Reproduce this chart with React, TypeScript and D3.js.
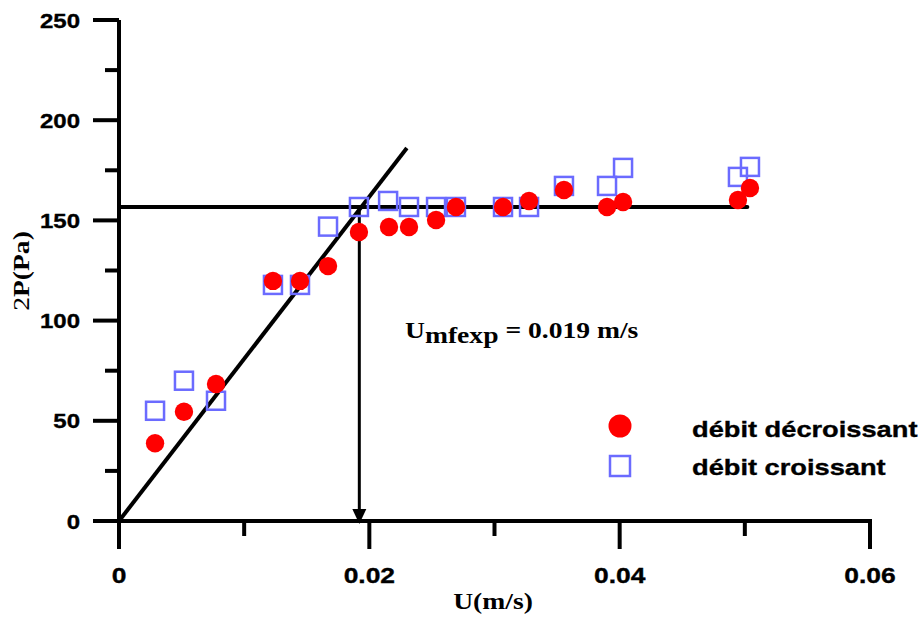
import React from "react";
import * as d3 from "d3";

// Superficial velocity (m/s) and pressure drop (Pa) — decreasing flow
const uDecreasing = [0.00288, 0.00519, 0.00775, 0.0123, 0.01446, 0.0167, 0.01917, 0.02157, 0.02317, 0.02533, 0.02692, 0.03068, 0.03276, 0.03555, 0.03899, 0.04027, 0.04945, 0.05041];
const pDecreasing = [38.8, 54.5, 68.4, 119.8, 119.8, 127.2, 144.2, 146.7, 146.7, 150.2, 156.7, 156.7, 159.7, 165.2, 156.7, 159.2, 160.2, 166.2];

// Increasing flow
const uIncreasing = [0.00288, 0.00519, 0.00775, 0.0123, 0.01446, 0.0167, 0.01917, 0.0215, 0.02317, 0.02533, 0.02692, 0.03068, 0.03276, 0.03555, 0.03899, 0.04027, 0.04945, 0.05041];
const pIncreasing = [55.0, 70.0, 60.0, 117.8, 117.8, 146.9, 156.7, 159.7, 156.7, 156.7, 156.7, 156.7, 156.7, 167.2, 167.2, 176.2, 171.7, 176.7];

// Fixed-bed fit line and fluidised plateau
const fitU = [0, 0.023];
const fitP = [0, 186.1];
const plateauU = [0, 0.0502];
const plateauP = 156.7;
const umf = 0.0192;

const xMajor = [0, 0.02, 0.04, 0.06];
const xMinor = [0.01, 0.03, 0.05];
const yMajor = [0, 50, 100, 150, 200, 250];
const yMinor = [25, 75, 125, 175, 225];

const legendLabels = ["débit décroissant", "débit croissant"];

const SANS = "'Liberation Sans', Arial, sans-serif";
const SERIF = "'Liberation Serif', 'Times New Roman', serif";
const RED = "#ff0000";
const BLUE = "#6b6bff";
const STRETCH = "scale(1.2,1)";

export default function App() {
  const x = d3.scaleLinear().domain([0, 0.06]).range([119, 870]);
  const y = d3.scaleLinear().domain([0, 250]).range([521, 20]);
  const y0 = y(0);
  const x0 = x(0);

  const fitLine = d3
    .line<number>()
    .x((_, i) => x(fitU[i]))
    .y((d) => y(d))(fitP);

  const sq = 18;

  return (
    <svg
      width={924}
      height={625}
      style={{ position: "absolute", left: 0, top: 0, background: "#fff" }}
    >
      {/* axes */}
      <g stroke="#000" strokeWidth={4} strokeLinecap="butt">
        <line x1={x0} y1={y(250)} x2={x0} y2={y0 + 2} />
        <line x1={x0 - 2} y1={y0} x2={x(0.06) + 2} y2={y0} />
        {yMajor.map((v) => (
          <line key={"ym" + v} x1={x0 - 26} x2={x0} y1={y(v)} y2={y(v)} />
        ))}
        {yMinor.map((v) => (
          <line key={"yn" + v} x1={x0 - 14} x2={x0} y1={y(v)} y2={y(v)} />
        ))}
        {xMajor.map((v) => (
          <line key={"xm" + v} x1={x(v)} x2={x(v)} y1={y0} y2={y0 + 28} />
        ))}
        {xMinor.map((v) => (
          <line key={"xn" + v} x1={x(v)} x2={x(v)} y1={y0} y2={y0 + 15} />
        ))}
      </g>

      {/* tick labels */}
      <g fontFamily={SANS} fontWeight="bold" fill="#000" stroke="#000" strokeWidth={0.35}>
        {yMajor.map((v) => (
          <g key={"yl" + v} transform={`translate(80,${y(v) + 7.5}) ${STRETCH}`}>
            <text textAnchor="end" fontSize={20}>
              {d3.format("d")(v)}
            </text>
          </g>
        ))}
        {xMajor.map((v) => (
          <g key={"xl" + v} transform={`translate(${x(v)},583) ${STRETCH}`}>
            <text textAnchor="middle" fontSize={22}>
              {v === 0 ? "0" : d3.format(".2f")(v)}
            </text>
          </g>
        ))}
      </g>

      {/* axis titles */}
      <g transform={`translate(493,609) ${STRETCH}`}>
        <text textAnchor="middle" fontFamily={SERIF} fontWeight="bold" fontSize={23}>
          U(m/s)
        </text>
      </g>
      <g transform={`translate(29,271) rotate(-90) ${STRETCH}`}>
        <text textAnchor="middle" fontFamily={SERIF} fontWeight="bold" fontSize={23}>
          <tspan fontWeight="normal">2</tspan>P(Pa)
        </text>
      </g>

      {/* fit line, plateau and minimum fluidisation arrow */}
      <path d={fitLine ?? ""} fill="none" stroke="#000" strokeWidth={4} />
      <line
        x1={x(plateauU[0])}
        x2={x(plateauU[1])}
        y1={y(plateauP)}
        y2={y(plateauP)}
        stroke="#000"
        strokeWidth={4}
        strokeLinecap="round"
      />
      <line x1={x(umf)} x2={x(umf)} y1={y(plateauP)} y2={y0 - 10} stroke="#000" strokeWidth={3} />
      <path
        d={`M${x(umf) - 7},${y0 - 12} L${x(umf) + 7},${y0 - 12} L${x(umf)},${y0 + 3} Z`}
        fill="#000"
      />

      <g transform={`translate(405,338) ${STRETCH}`}>
        <text fontFamily={SERIF} fontWeight="bold" fontSize={23}>
          U
          <tspan dy={5}>mfexp</tspan>
          <tspan dy={-5}>{` = ${d3.format(".3f")(umf)} m/s`}</tspan>
        </text>
      </g>

      {/* increasing-flow squares */}
      <g fill="none" stroke={BLUE} strokeWidth={2.5}>
        {uIncreasing.map((u, i) => (
          <rect key={"s" + i} x={x(u) - sq / 2} y={y(pIncreasing[i]) - sq / 2} width={sq} height={sq} />
        ))}
      </g>

      {/* decreasing-flow circles */}
      <g fill={RED}>
        {uDecreasing.map((u, i) => (
          <circle key={"c" + i} cx={x(u)} cy={y(pDecreasing[i])} r={9.2} />
        ))}
      </g>

      {/* legend */}
      <circle cx={620} cy={426} r={11.5} fill={RED} />
      <rect x={610} y={456} width={20} height={20} fill="none" stroke={BLUE} strokeWidth={2.5} />
      <g fontFamily={SANS} fontWeight="bold" fontSize={22.7} stroke="#000" strokeWidth={0.35}>
        {legendLabels.map((t, i) => (
          <g key={t} transform={`translate(692,${437 + i * 37.5}) ${STRETCH}`}>
            <text>{t}</text>
          </g>
        ))}
      </g>
    </svg>
  );
}
